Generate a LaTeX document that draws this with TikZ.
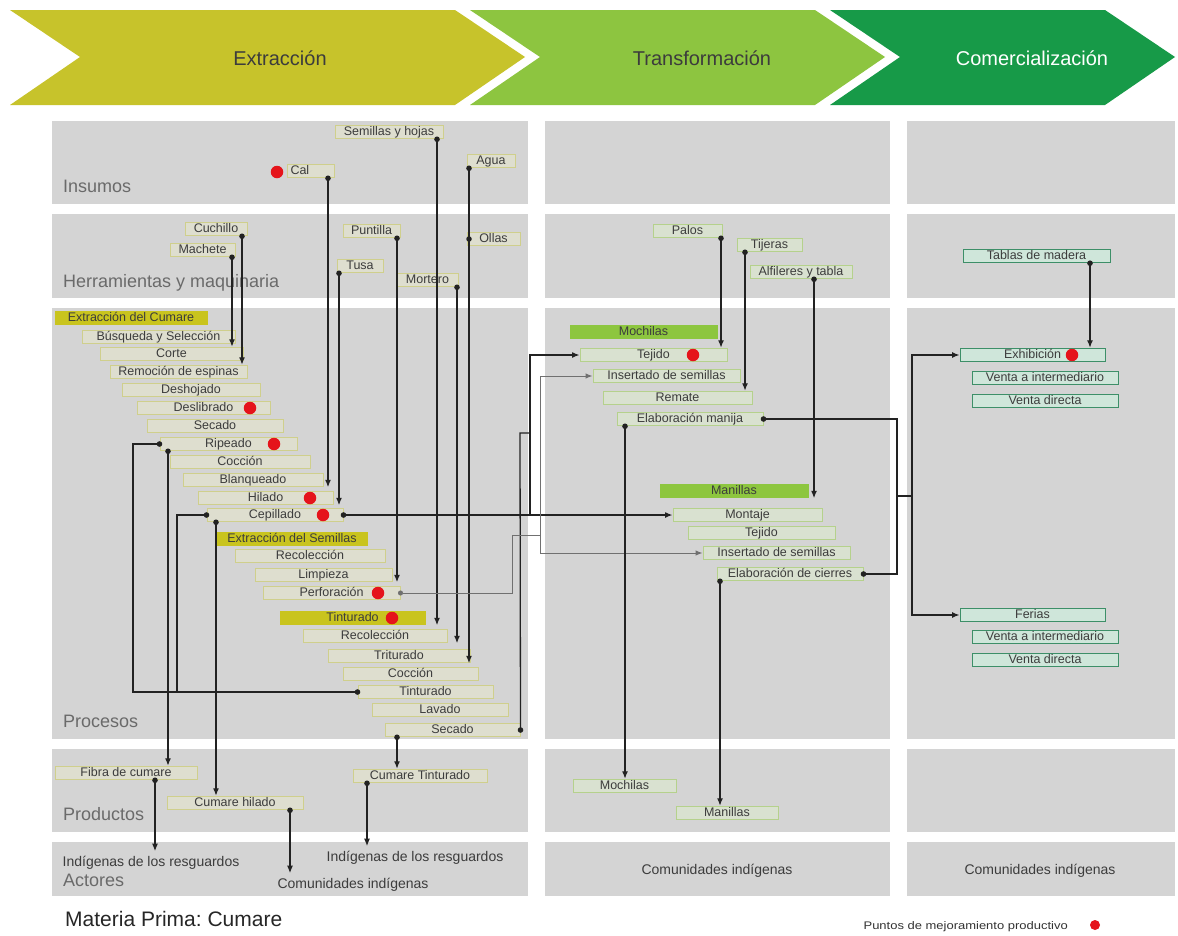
\documentclass[tikz,border=0pt]{standalone}
\usepackage{fontspec}
\setmainfont{Liberation Sans}
\usepackage{graphicx}
\usetikzlibrary{arrows.meta}
\definecolor{panelgray}{HTML}{D4D4D4}
\definecolor{arrA}{HTML}{C7C32B}
\definecolor{arrB}{HTML}{8DC540}
\definecolor{arrC}{HTML}{179A48}
\definecolor{yfill}{HTML}{DEDECF}
\definecolor{yline}{HTML}{CFCF8C}
\definecolor{yhead}{HTML}{C9C41E}
\definecolor{gfill}{HTML}{D9E1D0}
\definecolor{gline}{HTML}{B5D18C}
\definecolor{ghead}{HTML}{8DC63F}
\definecolor{tfill}{HTML}{CFE6DA}
\definecolor{tline}{HTML}{3D8F68}
\definecolor{boxtext}{HTML}{3C3C3C}
\definecolor{labtext}{HTML}{6A6A6A}
\definecolor{linek}{HTML}{222222}
\definecolor{lineg}{HTML}{707070}
\definecolor{dotred}{HTML}{E5141B}
\frenchspacing
\begin{document}
\begin{tikzpicture}[x=1pt,y=-1pt,
  box/.style={draw, line width=1pt, inner sep=0pt, minimum height=13.5pt, text height=9pt, text depth=2.5pt, font=\fontsize{12.5}{12.5}\selectfont, text=boxtext},
  ybox/.style={box, fill=yfill, draw=yline},
  yhdr/.style={box, fill=yhead, draw=yhead},
  gbox/.style={box, fill=gfill, draw=gline},
  ghdr/.style={box, fill=ghead, draw=ghead},
  tbox/.style={box, fill=tfill, draw=tline, line width=0.9pt},
  rowlab/.style={anchor=base west, font=\fontsize{18}{18}\selectfont, text=labtext, inner sep=0pt},
  hdrtxt/.style={font=\fontsize{20}{20}\selectfont, inner sep=0pt},
  actor/.style={font=\fontsize{14}{14}\selectfont, text=boxtext, inner xsep=1pt, inner ysep=5pt},
  rdot/.style={circle, fill=dotred, inner sep=0pt, minimum size=12.5pt},
  cdot/.style={circle, fill=linek, inner sep=0pt, minimum size=5.5pt},
  fib/.style={line width=1.3pt, draw=linek},
  fibA/.style={fib, {Circle[length=5.5pt]}-{Latex[length=7.5pt,width=6pt]}, shorten <=-2.75pt},
  fibT/.style={fib, -{Latex[length=7.5pt,width=6pt]}},
  fibD/.style={fib, {Circle[length=5.5pt]}-{Circle[length=5.5pt]}, shorten <=-2.75pt, shorten >=-2.75pt},
  fibS/.style={fib, {Circle[length=5.5pt]}-, shorten <=-2.75pt},
  sem/.style={line width=1pt, draw=lineg},
  semA/.style={sem, -{Latex[length=7pt,width=5.5pt]}},
  semS/.style={sem, {Circle[length=5pt]}-, shorten <=-2.5pt}
]
\useasboundingbox (0,0) rectangle (1178,935);
\fill[white] (0,0) rectangle (1178,935);

% header chevrons
\fill[arrA] (10,10) -- (455,10) -- (525,57) -- (455,105) -- (10,105) -- (80,57) -- cycle;
\fill[arrB] (470,10) -- (815,10) -- (885,57) -- (815,105) -- (470,105) -- (540,57) -- cycle;
\fill[arrC] (830,10) -- (1105,10) -- (1175,57) -- (1105,105) -- (830,105) -- (900,57) -- cycle;
\node[hdrtxt, text=boxtext] (hExt) at (280,58) {Extracción};
\node[hdrtxt, text=boxtext] (hTra) at (702,58) {Transformación};
\node[hdrtxt, text=white] (hCom) at (1032,58) {Comercialización};

% panels
\foreach \xa/\xb in {52/528, 545/890, 907/1175}{
  \foreach \ya/\yb in {121/204, 214/298, 308/739, 749/832, 842/896}{
    \fill[panelgray] (\xa,\ya) rectangle (\xb,\yb);
  }
}
\node[rowlab] (lIns) at (63,192) {Insumos};
\node[rowlab] (lHer) at (63,287) {Herramientas y maquinaria};
\node[rowlab] (lPro) at (63,727) {Procesos};
\node[rowlab] (lPrd) at (63,820) {Productos};
\node[rowlab] (lAct) at (63,886) {Actores};

% Insumos
\node[ybox, minimum width=108pt] (semhoj) at (389,132) {Semillas y hojas};
\node[ybox, text width=41pt, inner xsep=3pt, align=left] (cal) at (311,171) {Cal};
\node[ybox, minimum width=48pt] (agua) at (491,161) {Agua};
% Herramientas
\node[ybox, minimum width=62pt] (cuchillo) at (216,229) {Cuchillo};
\node[ybox, minimum width=65pt] (machete) at (202.5,250) {Machete};
\node[ybox, minimum width=57pt] (puntilla) at (371.5,231) {Puntilla};
\node[ybox, minimum width=53pt] (ollas) at (493.5,239) {Ollas};
\node[ybox, minimum width=46pt] (tusa) at (360,266) {Tusa};
\node[ybox, minimum width=61pt] (mortero) at (427.5,280) {Mortero};

% Procesos - extraccion
\node[yhdr, minimum width=152pt] (extcum) at (131,318) {Extracción del Cumare};
\node[ybox, minimum width=153pt] (busq) at (158.5,337) {Búsqueda y Selección};
\node[ybox, minimum width=143pt] (corte) at (171.5,354) {Corte};
\node[ybox, minimum width=137pt] (remoc) at (178.5,372) {Remoción de espinas};
\node[ybox, minimum width=138pt] (deshoj) at (191,390) {Deshojado};
\node[ybox, minimum width=133pt] (deslib) at (203.5,408) {Deslibrado};
\node[ybox, minimum width=136pt] (secado1) at (215,426) {Secado};
\node[ybox, minimum width=137pt] (ripeado) at (228.5,444) {Ripeado};
\node[ybox, minimum width=140pt] (coccion1) at (240,462) {Cocción};
\node[ybox, minimum width=140pt] (blanq) at (253,480) {Blanqueado};
\node[ybox, minimum width=135pt] (hilado) at (265.5,498) {Hilado};
\node[ybox, minimum width=136pt] (cepill) at (275,515) {Cepillado};
\node[yhdr, minimum width=150pt] (extsem) at (292,539) {Extracción del Semillas};
\node[ybox, minimum width=150pt] (recol1) at (310,556) {Recolección};
\node[ybox, minimum width=137pt] (limp) at (323.5,575) {Limpieza};
\node[ybox, minimum width=137pt] (perf) at (331.5,593) {Perforación};
\node[yhdr, minimum width=145pt] (tint1) at (352.5,618) {Tinturado};
\node[ybox, minimum width=144pt] (recol2) at (375,636) {Recolección};
\node[ybox, minimum width=142pt] (trit) at (399,656) {Triturado};
\node[ybox, minimum width=135pt] (coccion2) at (410.5,674) {Cocción};
\node[ybox, minimum width=135pt] (tint2) at (425.5,692) {Tinturado};
\node[ybox, minimum width=136pt] (lavado) at (440,710) {Lavado};
\node[ybox, minimum width=135pt] (secado2) at (452.5,730) {Secado};

% Transformacion
\node[gbox, minimum width=69pt] (palos) at (687.5,231) {Palos};
\node[gbox, minimum width=65pt] (tijeras) at (769.5,245) {Tijeras};
\node[gbox, minimum width=102pt] (alfil) at (801,272) {Alfileres y tabla};
\node[ghdr, minimum width=147pt] (mochH) at (643.5,332) {Mochilas};
\node[gbox, minimum width=147pt] (tejido1) at (653.5,355) {Tejido};
\node[gbox, minimum width=147pt] (insert1) at (666.5,376) {Insertado de semillas};
\node[gbox, minimum width=149pt] (remate) at (677.5,398) {Remate};
\node[gbox, minimum width=146pt] (elabman) at (690,419) {Elaboración manija};
\node[ghdr, minimum width=148pt] (maniH) at (734,491) {Manillas};
\node[gbox, minimum width=149pt] (montaje) at (747.5,515) {Montaje};
\node[gbox, minimum width=147pt] (tejido2) at (761.5,533) {Tejido};
\node[gbox, minimum width=147pt] (insert2) at (776.5,553) {Insertado de semillas};
\node[gbox, minimum width=146pt] (elabcie) at (790,574) {Elaboración de cierres};

% Comercializacion
\node[tbox, minimum width=147pt] (tablas) at (1036.5,256) {Tablas de madera};
\node[tbox, minimum width=145pt] (exhib) at (1032.5,355) {Exhibición};
\node[tbox, minimum width=146pt] (venta1) at (1045,378) {Venta a intermediario};
\node[tbox, minimum width=146pt] (directa1) at (1045,401) {Venta directa};
\node[tbox, minimum width=145pt] (ferias) at (1032.5,615) {Ferias};
\node[tbox, minimum width=146pt] (venta2) at (1045,637) {Venta a intermediario};
\node[tbox, minimum width=146pt] (directa2) at (1045,660) {Venta directa};

% Productos
\node[ybox, minimum width=142pt] (fibra) at (126,773) {Fibra de cumare};
\node[ybox, minimum width=136pt] (hiladoP) at (235,803) {Cumare hilado};
\node[ybox, minimum width=134pt] (tintP) at (420,776) {Cumare Tinturado};
\node[gbox, minimum width=103pt] (mochP) at (624.5,786) {Mochilas};
\node[gbox, minimum width=102pt] (maniP) at (727,813) {Manillas};

% Actores
\node[actor] (act1) at (151,863) {Indígenas de los resguardos};
\node[actor] (act2) at (353,885) {Comunidades indígenas};
\node[actor] (act3) at (415,858) {Indígenas de los resguardos};
\node[actor] (act4) at (717,871) {Comunidades indígenas};
\node[actor] (act5) at (1040,871) {Comunidades indígenas};

% connectors: tools and inputs -> processes
\draw[fibA] (cuchillo.south -| 242,0) -- (remoc.north -| 242,0);
\draw[fibA] (machete.south -| 232,0) -- (corte.north -| 232,0);
\draw[fibA] (cal.south -| 328,0) -- (blanq.south -| 328,0);
\draw[fibA] (tusa.south -| 339,0) -- (hilado.south -| 339,0);
\draw[fibA] (puntilla.south -| 397,0) -- (limp.south -| 397,0);
\draw[fibA] (semhoj.south -| 437,0) -- (tint1.south -| 437,0);
\draw[fibA] (mortero.south -| 457,0) -- (recol2.south -| 457,0);
\draw[fibA] (agua.south -| 469,0) -- (trit.south -| 469,0);
\node[cdot] (ollasdot) at (ollas.west -| 469,0) {};

% left loops
\coordinate (lA) at (133,692);
\coordinate (lB) at (177,692);
\draw[fibD] (ripeado.west) -| (lA) -- (tint2.west);
\draw[fibS] (cepill.west) -| (lB);
\draw[fibA] (ripeado.south -| 168,0) -- (fibra.north -| 168,0);
\draw[fibA] (cepill.south -| 216,0) -- (hiladoP.north -| 216,0);
\draw[fibA] (secado2.south -| 397,0) -- (tintP.north -| 397,0);

% fibre to transformation
\draw[fibA] (cepill.east) -- (montaje.west);
\coordinate (bA) at (520,433);
\coordinate (bB) at (530,433);
\draw[fibS] (secado2.east) -- (bA) -- (bB);
\draw[fibT] (bB) |- (tejido1.west);
\draw[fib] (bB) -- (bB |- cepill.east);

% seeds to transformation
\coordinate (sA) at (512,535);
\coordinate (sB) at (540,535);
\draw[semS] (perf.east) -| (sA) -- (sB);
\draw[semA] (sB) |- (insert1.west);
\draw[semA] (sB) |- (insert2.west);

% transformation tools
\draw[fibA] (palos.south -| 721,0) -- (tejido1.north -| 721,0);
\draw[fibA] (tijeras.south -| 745,0) -- (remate.north -| 745,0);
\draw[fibA] (alfil.south -| 814,0) -- (maniH.south -| 814,0);
\draw[fibA] (elabman.south -| 625,0) -- (mochP.north -| 625,0);
\draw[fibA] (elabcie.south -| 720,0) -- (maniP.north -| 720,0);

% to commercialisation
\coordinate (rA) at (897,496);
\coordinate (rB) at (912,496);
\draw[fibD] (elabman.east) -| (rA) |- (elabcie.east);
\draw[fib] (rA) -- (rB);
\draw[fibT] (rB) |- (exhib.west);
\draw[fibT] (rB) |- (ferias.west);
\draw[fibA] (tablas.south -| 1090,0) -- (exhib.north -| 1090,0);

% products -> actors
\draw[fibA] (fibra.south -| 155,0) -- (act1.north -| 155,0);
\draw[fibA] (hiladoP.south -| 290,0) -- (act2.north -| 290,0);
\draw[fibA] (tintP.south -| 367,0) -- (act3.north -| 367,0);

% improvement points
\node[rdot] (rCal) at (277,172) {};
\node[rdot] (rDes) at (250,408) {};
\node[rdot] (rRip) at (274,444) {};
\node[rdot] (rHil) at (310,498) {};
\node[rdot] (rCep) at (323,515) {};
\node[rdot] (rPer) at (378,593) {};
\node[rdot] (rTin) at (392,618) {};
\node[rdot] (rTej) at (693,355) {};
\node[rdot] (rExh) at (1072,355) {};

% footer
\node[anchor=base west, inner sep=0pt, font=\fontsize{21}{21}\selectfont, text=black!85] (mp) at (65,926) {Materia Prima: Cumare};
\node[anchor=base east, inner sep=0pt, font=\fontsize{11}{11}\selectfont, text=black!80] (leg) at (1068,929) {\scalebox{1.18}[1]{Puntos de mejoramiento productivo}};
\node[rdot, minimum size=10pt] (legdot) at (1095,925) {};
\end{tikzpicture}
\end{document}
